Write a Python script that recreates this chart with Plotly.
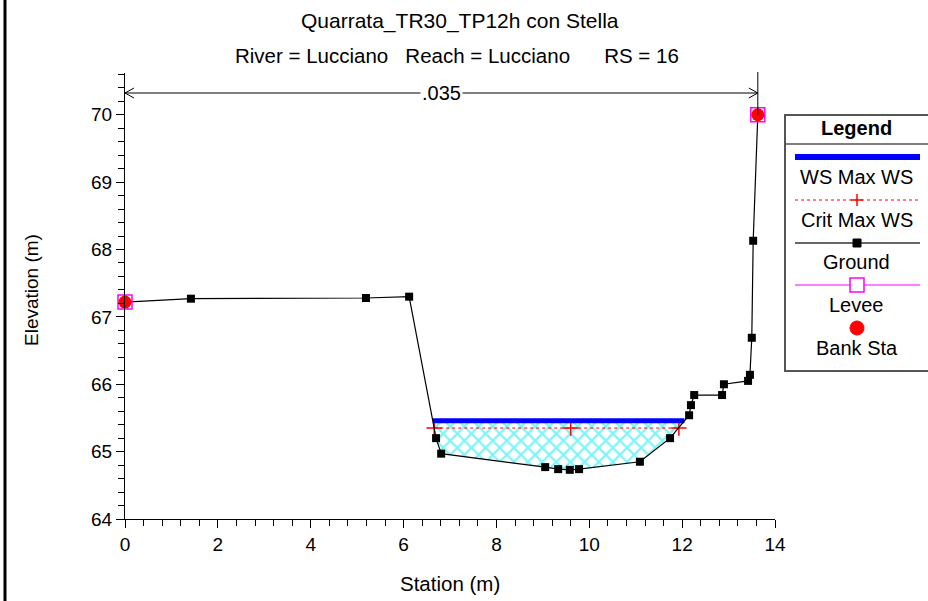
import plotly.graph_objects as go

# ---------------- data ----------------
ground_station = [0.0, 1.42, 5.19, 6.12, 6.70, 6.81, 9.05, 9.33, 9.58, 9.78,
                  11.09, 11.74, 12.15, 12.19, 12.26, 12.86, 12.90, 13.42, 13.46,
                  13.50, 13.53, 13.63]
ground_elev = [67.22, 67.27, 67.28, 67.30, 65.20, 64.97, 64.77, 64.74, 64.73, 64.74,
               64.85, 65.20, 65.54, 65.69, 65.84, 65.84, 66.00, 66.05, 66.14,
               66.69, 68.13, 70.00]
ws_station = [6.63, 12.05]
ws_elev = [65.46, 65.46]
crit_station = [6.66, 9.60, 11.93]
crit_elev = [65.35, 65.35, 65.35]
bank_station = [0.0, 13.63]
bank_elev = [67.22, 70.00]
levee_station = [0.0, 13.63]
levee_elev = [67.22, 70.00]
manning_n = ".035"
x_ticks = [0, 2, 4, 6, 8, 10, 12, 14]
y_ticks = [64, 65, 66, 67, 68, 69, 70]

title = "Quarrata_TR30_TP12h con Stella"
subtitle = "River = Lucciano\u00a0\u00a0\u00a0Reach = Lucciano\u00a0\u00a0\u00a0\u00a0\u00a0\u00a0RS = 16"
legend_items = ["WS Max WS", "Crit Max WS", "Ground", "Levee", "Bank Sta"]

FONT = "Liberation Sans, Arial, Helvetica, sans-serif"
W, H = 928, 601
L, R, T, B = 125, 775, 73, 519  # plot area in pixels

# minor tick positions (4 between each pair of majors)
x_minor = [round(x_ticks[0] + i * 0.4, 2) for i in range(0, 36) if i % 5 != 0]
y_minor = [round(y_ticks[0] + i * 0.2, 2) for i in range(0, 34) if i % 5 != 0]


def px(x):
    return (x - L) / (R - L)


def py(y):
    return (B - y) / (B - T)


fig = go.Figure()

# fill polygon between WS and ground
fill_x = [ws_station[0], ws_station[1]]
fill_y = [ws_elev[0], ws_elev[1]]
inner = [(s, e) for s, e in zip(ground_station, ground_elev) if ws_station[0] < s < ws_station[1]]
for s, e in reversed(inner):
    fill_x.append(s)
    fill_y.append(e)
fill_x.append(ws_station[0])
fill_y.append(ws_elev[0])

fig.add_trace(go.Scatter(
    x=fill_x, y=fill_y, mode="lines", fill="toself",
    line=dict(width=0, color="rgba(0,0,0,0)"),
    fillcolor="white",
    fillpattern=dict(shape="x", fgcolor="#00eaf2", bgcolor="white", size=10, solidity=0.4),
    hoverinfo="skip", showlegend=False))

# crit line
fig.add_trace(go.Scatter(
    x=crit_station, y=crit_elev, mode="lines+markers",
    line=dict(color="red", width=1, dash="dot"),
    marker=dict(symbol="cross-thin", size=11, line=dict(color="red", width=1.5)),
    showlegend=False))

# WS line
fig.add_trace(go.Scatter(
    x=ws_station, y=ws_elev, mode="lines",
    line=dict(color="#0000ff", width=5), showlegend=False))

# ground
fig.add_trace(go.Scatter(
    x=ground_station, y=ground_elev, mode="lines+markers",
    line=dict(color="black", width=1.2),
    marker=dict(symbol="square", size=8, color="black"),
    showlegend=False, cliponaxis=False))

# levee
fig.add_trace(go.Scatter(
    x=levee_station, y=levee_elev, mode="markers",
    marker=dict(symbol="square-open", size=14, color="#ff00ff", line=dict(width=1.5)),
    showlegend=False, cliponaxis=False))

# bank sta
fig.add_trace(go.Scatter(
    x=bank_station, y=bank_elev, mode="markers",
    marker=dict(symbol="circle", size=13, color="red"),
    showlegend=False, cliponaxis=False))

shapes = []
annotations = []


def note(x, y, text, size, **kw):
    d = dict(x=px(x), y=py(y), xref="paper", yref="paper", text=text, showarrow=False,
             xanchor="center", yanchor="middle", font=dict(family=FONT, size=size, color="black"))
    d.update(kw)
    annotations.append(d)


# left frame border
shapes.append(dict(type="line", xref="paper", yref="paper",
                   x0=px(5), x1=px(5), y0=py(0), y1=py(W), line=dict(color="black", width=3)))

# manning n arrow
ya = py(93)
shapes.append(dict(type="line", xref="x", yref="paper", x0=bank_station[0], x1=bank_station[1],
                   y0=ya, y1=ya, line=dict(color="black", width=1)))
dxp = 9 / ((R - L) / 14.0)
dyp = 5 / (B - T)
shapes.append(dict(type="path", xref="x", yref="paper",
                   path=f"M {bank_station[0] + dxp},{ya + dyp} L {bank_station[0]},{ya} L {bank_station[0] + dxp},{ya - dyp}",
                   line=dict(color="black", width=1)))
shapes.append(dict(type="path", xref="x", yref="paper",
                   path=f"M {bank_station[1] - dxp},{ya + dyp} L {bank_station[1]},{ya} L {bank_station[1] - dxp},{ya - dyp}",
                   line=dict(color="black", width=1)))
shapes.append(dict(type="line", xref="x", yref="paper", x0=bank_station[1], x1=bank_station[1],
                   y0=py(115), y1=py(72), line=dict(color="black", width=1)))
annotations.append(dict(x=(bank_station[0] + bank_station[1]) / 2, y=ya, xref="x", yref="paper",
                        text=manning_n, showarrow=False, bgcolor="white",
                        xanchor="center", yanchor="middle",
                        font=dict(family=FONT, size=20, color="black")))

# titles
note(460, 21, title, 21)
note(457, 55, subtitle, 20.5)
note(450, 583, "Station (m)", 20.5)
note(31, 290, "Elevation (m)", 19, textangle=-90)

# custom legend
lx0, lx1 = 785, 940
shapes.append(dict(type="rect", xref="paper", yref="paper", x0=px(lx0), x1=px(lx1),
                   y0=py(115), y1=py(371), line=dict(color="#555555", width=2), fillcolor="white",
                   layer="below"))
shapes.append(dict(type="line", xref="paper", yref="paper", x0=px(lx0), x1=px(lx1),
                   y0=py(144), y1=py(144), line=dict(color="#555555", width=1.5)))
cx = 857
note(cx, 128, "<b>Legend</b>", 20)
sx0, sx1 = 795, 920
# WS
shapes.append(dict(type="line", xref="paper", yref="paper", x0=px(sx0), x1=px(sx1),
                   y0=py(157), y1=py(157), line=dict(color="#0000ff", width=6)))
# Crit
shapes.append(dict(type="line", xref="paper", yref="paper", x0=px(sx0), x1=px(sx1),
                   y0=py(200), y1=py(200), line=dict(color="red", width=1, dash="dot")))
shapes.append(dict(type="line", xref="paper", yref="paper", x0=px(cx - 6), x1=px(cx + 6),
                   y0=py(200), y1=py(200), line=dict(color="red", width=1.5)))
shapes.append(dict(type="line", xref="paper", yref="paper", x0=px(cx), x1=px(cx),
                   y0=py(194), y1=py(206), line=dict(color="red", width=1.5)))
# Ground
shapes.append(dict(type="line", xref="paper", yref="paper", x0=px(sx0), x1=px(sx1),
                   y0=py(243), y1=py(243), line=dict(color="#333333", width=1.5)))
shapes.append(dict(type="rect", xref="paper", yref="paper", x0=px(cx - 4), x1=px(cx + 4),
                   y0=py(239), y1=py(247), line=dict(color="black", width=1), fillcolor="black"))
# Levee
shapes.append(dict(type="line", xref="paper", yref="paper", x0=px(sx0), x1=px(sx1),
                   y0=py(285), y1=py(285), line=dict(color="#ff00ff", width=1.2)))
shapes.append(dict(type="rect", xref="paper", yref="paper", x0=px(cx - 7), x1=px(cx + 7),
                   y0=py(278), y1=py(292), line=dict(color="#ff00ff", width=1.5), fillcolor="white"))
# Bank
shapes.append(dict(type="circle", xref="paper", yref="paper", x0=px(cx - 7), x1=px(cx + 7),
                   y0=py(321), y1=py(335), line=dict(color="red", width=1), fillcolor="red"))
for txt, yy in zip(legend_items, [177, 220, 262, 305, 348]):
    note(cx, yy, txt, 20)

fig.update_layout(
    width=W, height=H,
    margin=dict(l=L, r=W - R, t=T, b=H - B, pad=0),
    paper_bgcolor="white", plot_bgcolor="white",
    shapes=shapes, annotations=annotations,
    xaxis=dict(range=[0, 14], tickmode="array", tickvals=x_ticks, ticks="outside", ticklen=8,
               tickcolor="black", tickwidth=1, showline=True, linecolor="black", linewidth=1,
               showgrid=False, zeroline=False,
               tickfont=dict(family=FONT, size=19, color="black"),
               minor=dict(tickmode="array", tickvals=x_minor, ticks="outside", ticklen=6,
                          tickcolor="black", tickwidth=1, showgrid=False)),
    yaxis=dict(range=[64, 70.62], tickmode="array", tickvals=y_ticks, ticks="outside", ticklen=8,
               tickcolor="black", tickwidth=1, showline=True, linecolor="black", linewidth=1,
               showgrid=False, zeroline=False,
               tickfont=dict(family=FONT, size=19, color="black"),
               minor=dict(tickmode="array", tickvals=y_minor, ticks="outside", ticklen=6,
                          tickcolor="black", tickwidth=1, showgrid=False)),
    showlegend=False,
)

fig.write_html("out.html", config={"displayModeBar": False},
               post_script="document.body.style.margin='0';")
